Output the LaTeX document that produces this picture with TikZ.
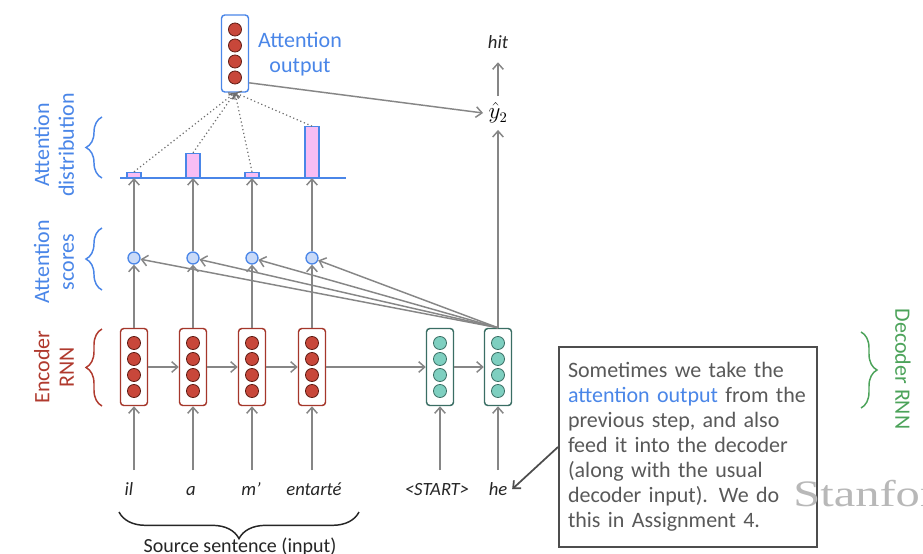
\documentclass[tikz,border=0pt]{standalone}
\usepackage{fontspec}
\setmainfont{Carlito}
\newfontfamily\stanfont{Liberation Serif}
\usetikzlibrary{arrows.meta,decorations.pathreplacing,calc}
\definecolor{ablue}{HTML}{4A86E8}
\definecolor{agray}{HTML}{868686}
\definecolor{dgray}{HTML}{6E6E6E}
\definecolor{ered}{HTML}{A5372B}
\definecolor{efill}{HTML}{C8473A}
\definecolor{eline}{HTML}{5E1A12}
\definecolor{dteal}{HTML}{3A6E64}
\definecolor{dfill}{HTML}{7ECFC0}
\definecolor{sfill}{HTML}{C9DAF8}
\definecolor{pinkf}{HTML}{F8BDF4}
\definecolor{lred}{HTML}{B03A2E}
\definecolor{lgreen}{HTML}{4CA35A}
\definecolor{cgray}{HTML}{4D4D4D}
\definecolor{ctext}{HTML}{595959}
\definecolor{stangray}{HTML}{B8B8B8}
\newcommand\rnnbox[4]{%
  \node[#4box] (#1) at (#2,#3) {};
  \foreach \dd in {-24,-8,8,24} \node[#4circ] at (#2,{#3+\dd}) {};
}
\begin{document}
\begin{tikzpicture}[x=0.75pt,y=-0.75pt,
  arr/.style={draw=agray, line width=1.1pt, -{Straight Barb[length=4.5pt,width=8pt]}},
  dotline/.style={draw=dgray, line width=0.9pt, dotted, -{Straight Barb[length=3.5pt,width=6pt]}},
  encbox/.style={draw=ered, line width=1.1pt, rounded corners=2.5pt, fill=white, minimum width=20.25pt, minimum height=57.75pt, inner sep=0},
  decbox/.style={encbox, draw=dteal},
  aobox/.style={encbox, draw=ablue},
  enccirc/.style={circle, fill=efill, draw=eline, line width=0.6pt, minimum size=9.8pt, inner sep=0},
  deccirc/.style={enccirc, fill=dfill, draw=dteal},
  aocirc/.style={enccirc},
  score/.style={circle, fill=sfill, draw=ablue, line width=1pt, minimum size=9pt, inner sep=0},
  bar/.style={draw=ablue, fill=pinkf, line width=0.9pt, minimum width=10.5pt, inner sep=0, anchor=south},
  lbl/.style={font=\fontsize{16.5}{18.5}\selectfont, align=center},
  word/.style={font=\fontsize{14}{16}\selectfont\itshape, text=black!85, text height=10pt, text depth=3pt, inner sep=2pt},
  brc/.style={line width=1.1pt, decorate, decoration={brace, amplitude=#1}},
]
\fill[white] (0,0) rectangle (923,553);
\useasboundingbox (0,0) rectangle (923,553);

% encoder / decoder boxes
\rnnbox{e1}{134}{367}{enc}
\rnnbox{e2}{193}{367}{enc}
\rnnbox{e3}{252}{367}{enc}
\rnnbox{e4}{312}{367}{enc}
\rnnbox{d1}{440}{367}{dec}
\rnnbox{d2}{498}{367}{dec}
\rnnbox{ao}{235}{53.5}{ao}

% scores
\node[score] (s1) at (134,258) {};
\node[score] (s2) at (193,258) {};
\node[score] (s3) at (252,258) {};
\node[score] (s4) at (312,258) {};

% distribution baseline and bars
\coordinate (bl) at (120,178);
\coordinate (br) at (346,178);
\coordinate (p1) at (134,178);
\coordinate (p2) at (193,178);
\coordinate (p3) at (252,178);
\coordinate (p4) at (312,178);
\node[bar, minimum height=3.75pt] (b1) at (p1) {};
\node[bar, minimum height=18pt] (b2) at (p2) {};
\node[bar, minimum height=3.75pt] (b3) at (p3) {};
\node[bar, minimum height=38pt] (b4) at (p4) {};
\draw[ablue, line width=1.1pt] (bl) -- (br);

% output side
\node[inner sep=0, minimum width=22pt, minimum height=25pt, font=\fontsize{16}{18}\selectfont] (yh) at (498,113) {$\hat{y}_2$};
\node[word] (hit) at (498,44) {hit};
\node[lbl, text=ablue] (aol) at (300,54) {Attention\\output};

% words
\node[word] (w1) at (129,491) {il};
\node[word] (w2) at (191,491) {a};
\node[word] (w3) at (251,491) {m’};
\node[word] (w4) at (314,491) {entarté};
\node[word] (w5) at (437,491) {<START>};
\node[word] (w6) at (498,491) {he};

% arrows
\foreach \i in {1,2,3,4}{
  \draw[arr] (e\i.north) -- (s\i.south);
  \draw[arr] (s\i.north) -- (p\i);
  \draw[arr] (d2.north) -- (s\i);
  \draw[dotline] (b\i.north) -- (ao.south);
  \draw[arr, shorten <=7pt] (e\i |- w\i.north) -- (e\i.south);
}
\draw[arr, shorten <=7pt] (d1 |- w5.north) -- (d1.south);
\draw[arr, shorten <=7pt] (d2 |- w6.north) -- (d2.south);
\draw[arr] (e1.east) -- (e2.west);
\draw[arr] (e2.east) -- (e3.west);
\draw[arr] (e3.east) -- (e4.west);
\draw[arr] (e4.east) -- (d1.west);
\draw[arr] (d1.east) -- (d2.west);
\draw[arr] (d2.north) -- (yh.south);
\draw[arr, shorten >=5pt] (yh.north) -- (hit.south);
\draw[arr] ([yshift=-22pt]ao.east) -- (yh.west);

% side labels and braces
\node[lbl, text=ablue, rotate=90] (ldist) at (54,145) {Attention\\distribution};
\node[lbl, text=ablue, rotate=90] (lscore) at (54,262) {Attention\\scores};
\node[lbl, text=lred, rotate=90] (lenc) at (54,367) {Encoder\\RNN};
\node[lbl, text=lgreen, rotate=-90] (ldec) at (903,369) {Decoder RNN};
\draw[brc=12pt, ablue] (102,178) -- (102,117);
\draw[brc=12pt, ablue] (102,290) -- (102,228);
\draw[brc=12pt, lred] (102,406) -- (102,329);
\draw[brc=12pt, lgreen] (861,332) -- (861,408);
\draw[brc=20pt, black!85] (359,512) -- (119,512);
\node[font=\fontsize{15}{17}\selectfont, text=black!85] (src) at (240,547) {Source sentence (input)};

% callout
\node[draw=cgray, line width=1.5pt, fill=white, minimum width=193.5pt, minimum height=150pt,
      text width=180pt, inner xsep=6.75pt, align=left, text=ctext,
      font=\fontsize{16.5}{18.75}\selectfont] (cb) at (688,447)
  {Sometimes we take the\\\textcolor{ablue}{attention output} from the\\previous step, and also\\feed it into the decoder\\(along with the usual\\decoder input). We do\\this in Assignment 4.};
\draw[draw=cgray, line width=1.3pt, -{Straight Barb[length=4.5pt,width=8pt]}, shorten >=2pt] (cb.west) -- (w6.east);

% watermark (on top)
\node[anchor=base west, inner sep=0, text=stangray, font=\stanfont\fontsize{28}{28}\selectfont] (st) at (793,506) {\scalebox{1.3}[1]{Stanford}};
\end{tikzpicture}
\end{document}
